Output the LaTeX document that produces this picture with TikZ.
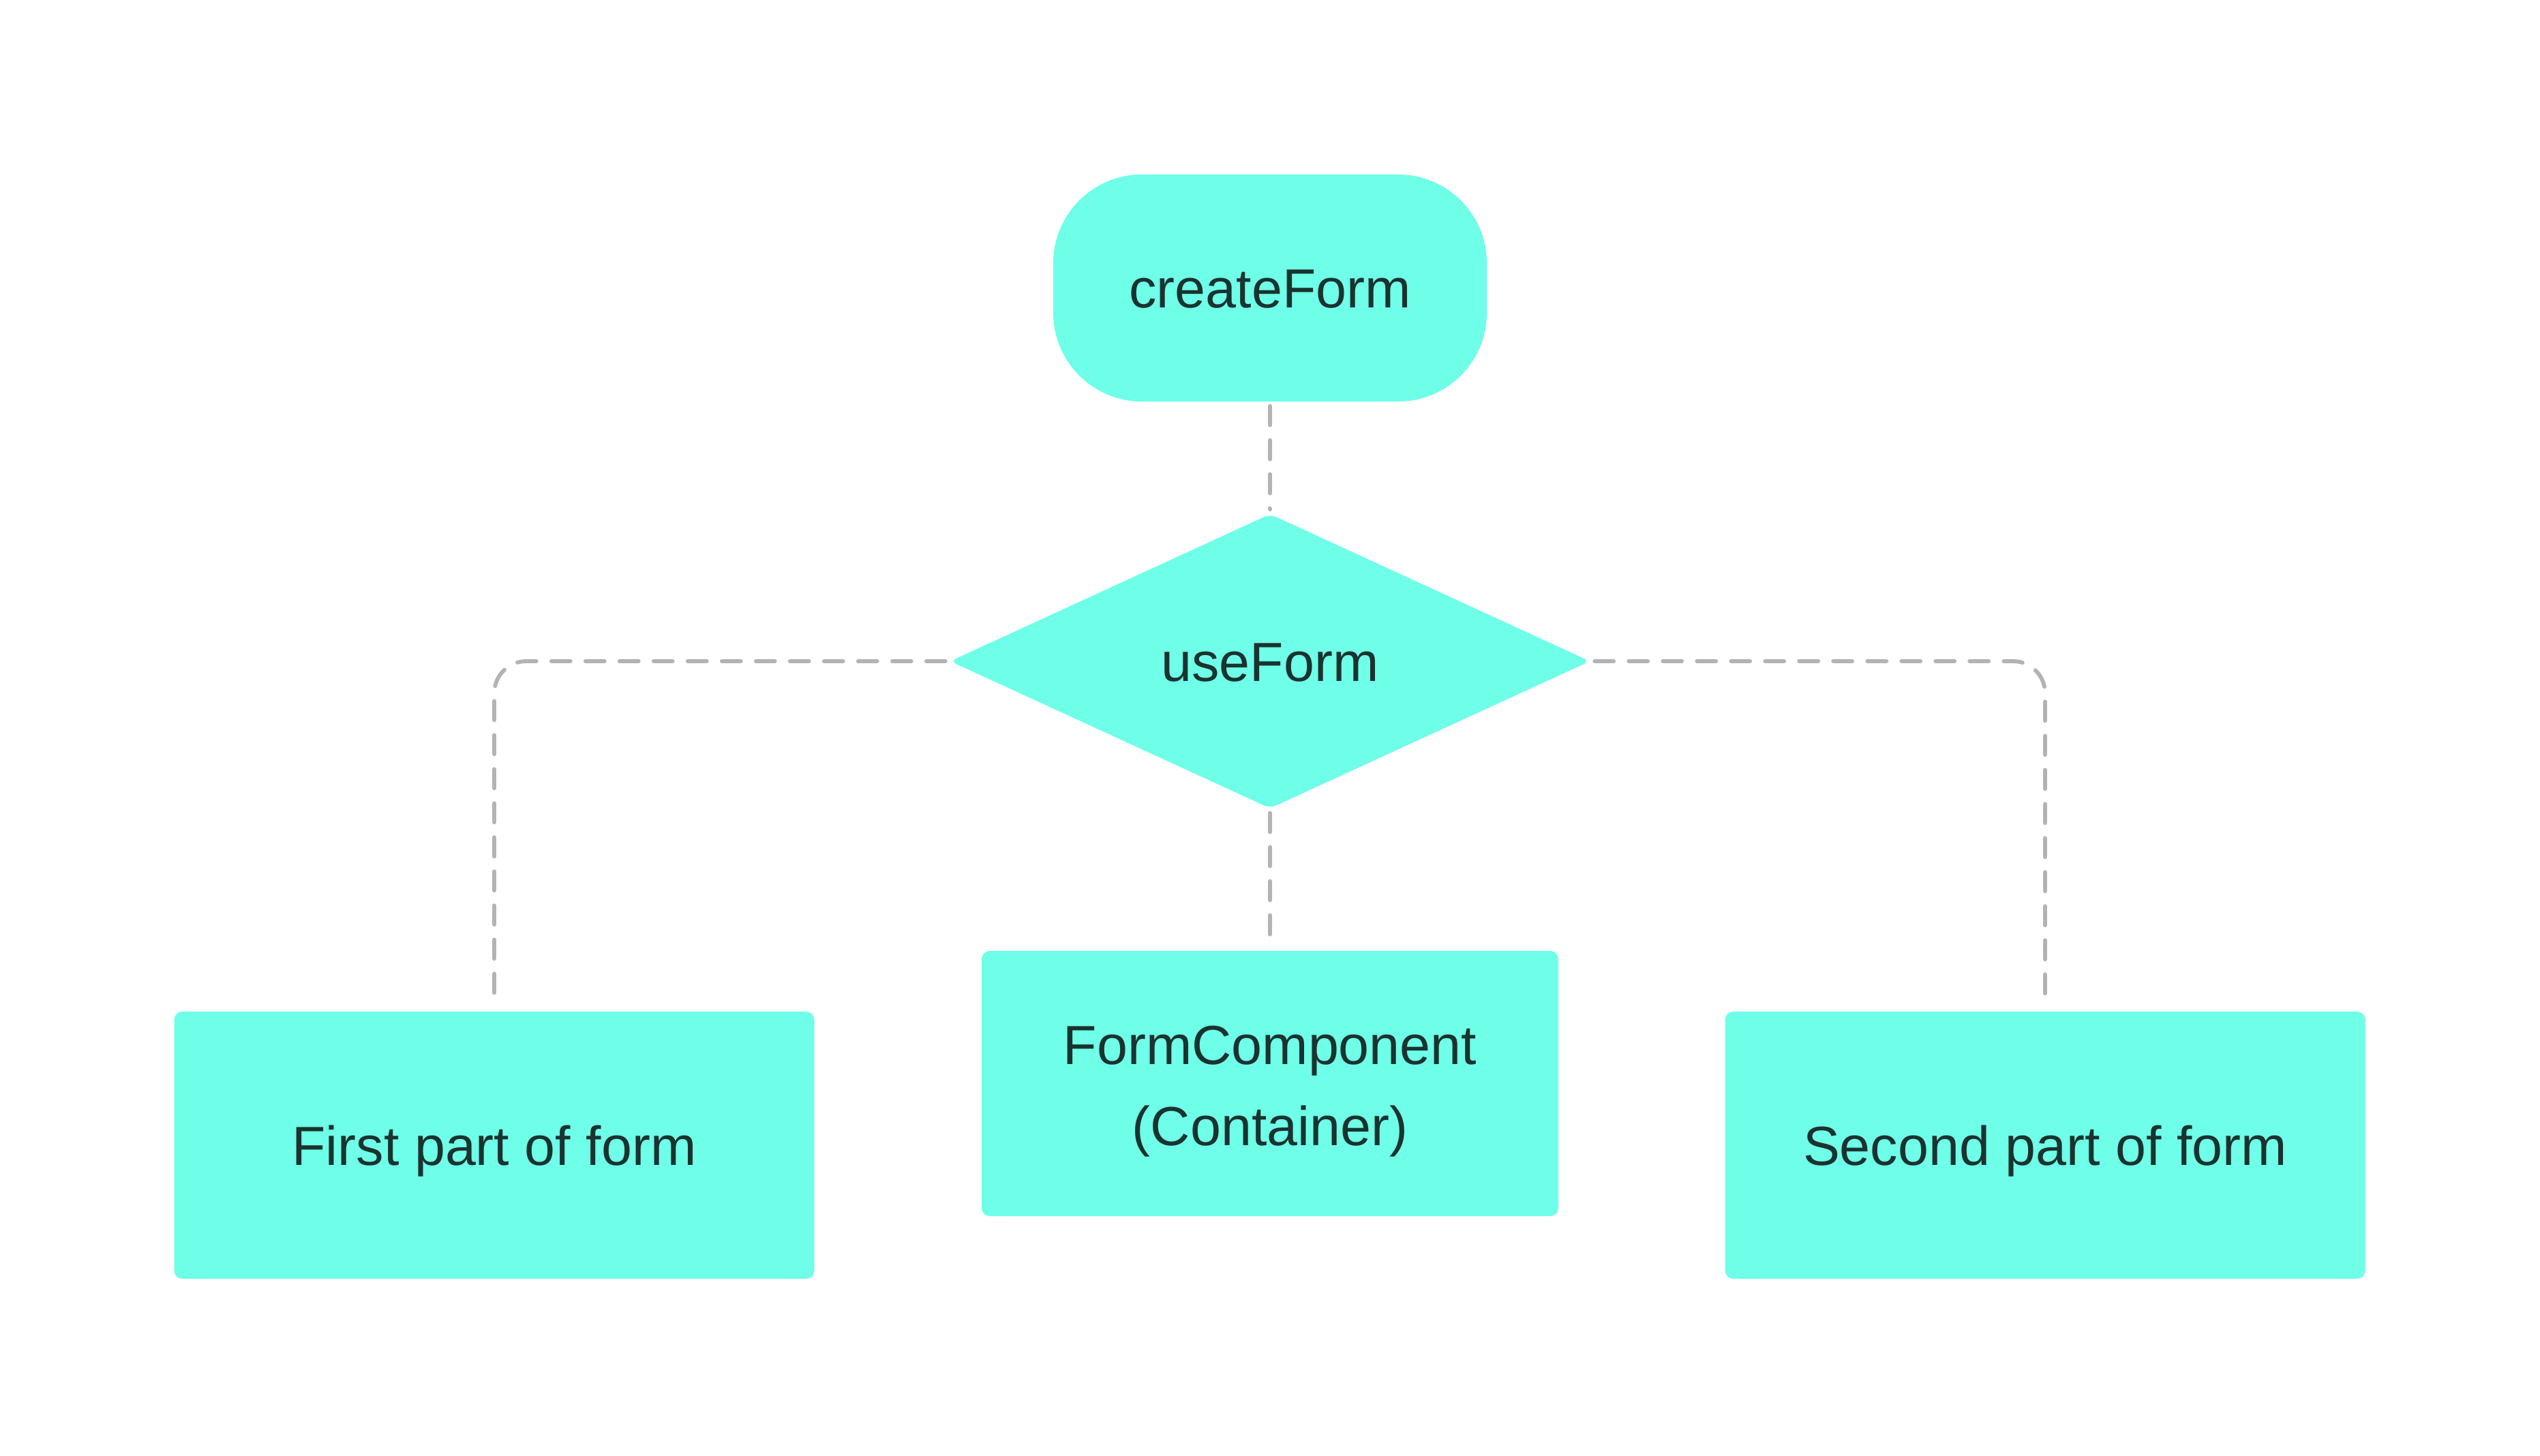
\documentclass[tikz,border=0pt]{standalone}
\usepackage{fontspec}
\setmainfont{Liberation Sans}
\usetikzlibrary{shapes.geometric}
\definecolor{boxfill}{HTML}{6FFFE9}
\definecolor{txt}{HTML}{1A332F}
\definecolor{dashgray}{HTML}{B3B3B3}
\begin{document}
\begin{tikzpicture}[
  every node/.style={font=\fontsize{23}{33.8}\selectfont, text=txt},
  boxnode/.style={fill=boxfill, rectangle, rounded corners=0.12cm, inner sep=0pt},
  single/.style={text height=0.58cm, text depth=0pt},
  conn/.style={draw=dashgray, line width=0.058cm, line cap=round, dash pattern=on 0.28cm off 0.22cm}
]
\useasboundingbox (0,0) rectangle (37.26,-21.35);
\fill[white] (0,0) rectangle (37.26,-21.35);

\node[boxnode, single, rounded corners=1.3cm, minimum width=6.36cm, minimum height=3.33cm] (create) at (18.63,-4.225) {createForm};
\node[diamond, fill=boxfill, rounded corners=0.1cm, inner sep=0pt, minimum width=9.39cm, minimum height=4.32cm, single] (use) at (18.63,-9.70) {useForm};
\node[boxnode, single, minimum width=9.39cm, minimum height=3.92cm] (first) at (7.25,-16.80) {First part of form};
\node[boxnode, align=center, text height=1.81cm, text depth=0pt, minimum width=8.46cm, minimum height=3.89cm] (mid) at (18.63,-15.895) {FormComponent\\(Container)};
\node[boxnode, single, minimum width=9.39cm, minimum height=3.92cm] (second) at (30.00,-16.80) {Second part of form};

\draw[conn, shorten <=0.06cm, shorten >=0.06cm] (create.south) -- (use.north);
\draw[conn, shorten <=0.06cm, shorten >=0.06cm] (use.south) -- (mid.north);
\draw[conn, rounded corners=0.47cm, shorten <=0.06cm, shorten >=0.06cm] (use.west) -| (first.north);
\draw[conn, rounded corners=0.47cm, shorten <=0.06cm, shorten >=0.06cm] (use.east) -| (second.north);
\end{tikzpicture}
\end{document}
